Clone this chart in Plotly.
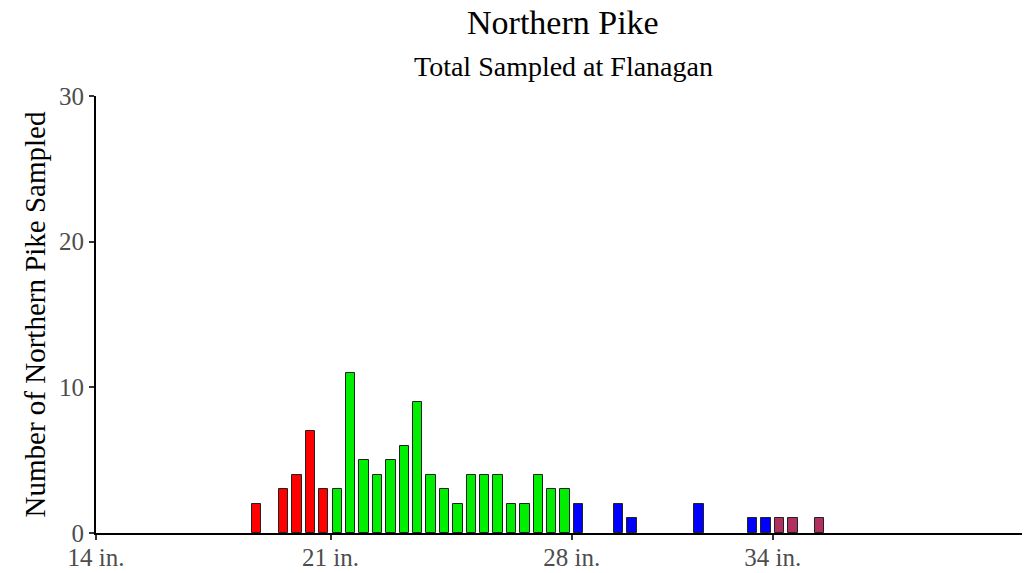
import plotly.graph_objects as go

# length bins (lower edge, cm) and counts
bin_cm = [47, 49, 50, 51, 52,
          53, 54, 55, 56, 57, 58, 59, 60, 61, 62, 63, 64, 65, 66, 67, 68, 69, 70,
          71, 74, 75, 80, 84, 85,
          86, 87, 89]
counts = [2, 3, 4, 7, 3,
          3, 11, 5, 4, 5, 6, 9, 4, 3, 2, 4, 4, 4, 2, 2, 4, 3, 3,
          2, 2, 1, 2, 1, 1,
          1, 1, 1]

tick_cm = [35.5, 53, 71, 86]
tick_labels = ["14 in.", "21 in.", "28 in.", "34 in."]
class_colors = ["#FF0000", "#00EE00", "#0000FF", "#B03060"]


def colour_for(lo):
    if lo < tick_cm[1]:
        return class_colors[0]
    if lo < tick_cm[2]:
        return class_colors[1]
    if lo < tick_cm[3]:
        return class_colors[2]
    return class_colors[3]


fig = go.Figure(
    go.Bar(
        x=[b + 0.5 for b in bin_cm],
        y=counts,
        width=0.7,
        marker=dict(color=[colour_for(b) for b in bin_cm],
                    line=dict(color="#222222", width=1)),
        hoverinfo="x+y",
    )
)

serif = "Liberation Serif, Times New Roman, serif"
# page body adds an 8px margin, so the figure is sized a bit smaller
fig.update_layout(
    width=1022, height=565,
    margin=dict(l=88, r=0, t=88, b=40),
    plot_bgcolor="white", paper_bgcolor="white",
    font=dict(family=serif, color="#222222"),
    showlegend=False,
    bargap=0,
    annotations=[
        dict(text="Northern Pike", xref="paper", yref="paper", x=0.5, y=1,
             yshift=74, showarrow=False, font=dict(size=34, color="black"),
             xanchor="center", yanchor="middle"),
        dict(text="Total Sampled at Flanagan", xref="paper", yref="paper",
             x=0.5, y=1, yshift=30, showarrow=False,
             font=dict(size=28, color="black"),
             xanchor="center", yanchor="middle"),
    ],
)
fig.update_xaxes(
    range=[35.5, 105.2], automargin=False,
    tickvals=tick_cm, ticktext=tick_labels,
    showline=True, linecolor="black", linewidth=2,
    ticks="outside", ticklen=5, tickcolor="#333333", tickwidth=1.5,
    ticklabelstandoff=-4,
    tickfont=dict(size=25, color="#4D4D4D"),
    showgrid=False, zeroline=False,
)
fig.update_yaxes(
    range=[0, 30], tickvals=[0, 10, 20, 30], automargin=False,
    title=dict(text="Number of Northern Pike Sampled", font=dict(size=29, color="black"),
               standoff=5),
    showline=True, linecolor="black", linewidth=2,
    ticks="outside", ticklen=5, tickcolor="#333333", tickwidth=1.5,
    tickfont=dict(size=25, color="#4D4D4D"),
    showgrid=False, zeroline=False,
)

fig.write_html("out.html")
